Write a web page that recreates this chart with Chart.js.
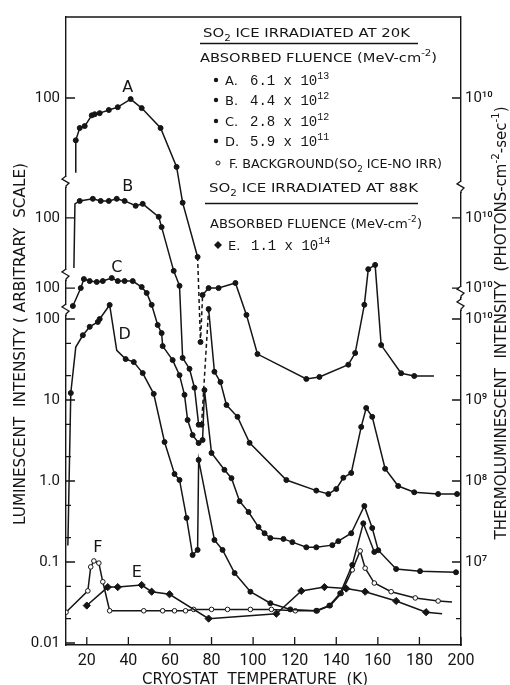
<!DOCTYPE html>
<html>
<head>
<meta charset="utf-8">
<script src="https://cdn.jsdelivr.net/npm/chart.js@4.4.0/dist/chart.umd.min.js"></script>
<style>
  html, body { margin: 0; padding: 0; background: #fff; }
  #wrap { width: 510px; height: 685px; }
</style>
</head>
<body>
<div id="wrap"><canvas id="tl" width="510" height="685"></canvas></div>
<script>
// values; A, B, C are in their own (shifted) scales
const aTemp = [14.7, 14.7, 16.6, 19.0, 22.4, 23.8, 26.2, 30.6, 34.9, 41.1, 46.4, 55.5, 63.2, 66.1, 73.3, 74.7, 75.7, 78.6, 83.4, 91.5, 96.8, 102.1, 125.6, 131.9, 145.8, 149.1, 153.5, 155.4, 158.7, 161.6, 171.2, 177.5, 187];
const aLum  = [11.9, 30, 42.6, 45, 61, 63, 65, 71, 77, 97, 75, 42.6, 14.1, 5.1, 1.09, 0.097, 0.37, 0.45, 0.45, 0.52, 0.21, 0.069, 0.034, 0.036, 0.051, 0.071, 0.28, 0.77, 0.87, 0.089, 0.040, 0.037, 0.037];

const bTemp = [13.8, 14.3, 16.6, 22.9, 26.7, 30.6, 34.4, 38.2, 43.5, 46.9, 54.6, 56.0, 61.8, 64.6, 66.1, 69.4, 71.8, 73.8, 75.2, 78.6, 81.4, 84.3, 87.2, 92.5, 98.3, 116.0, 130.4, 136.2, 140.0, 143.4, 147.2, 152.0, 154.4, 157.3, 163.5, 169.8, 177.5, 189.0, 198.1];
const bLum  = [24, 149, 162, 172, 162, 162, 172, 162, 141, 149, 103, 77, 22.2, 14.5, 1.87, 1.37, 0.80, 0.28, 0.28, 7.5, 1.26, 0.94, 0.49, 0.35, 0.167, 0.058, 0.043, 0.039, 0.045, 0.062, 0.071, 0.263, 0.45, 0.35, 0.080, 0.049, 0.041, 0.039, 0.039];

const cTemp = [13.3, 17.1, 18.6, 21.4, 24.8, 27.7, 32.0, 34.9, 38.2, 42.1, 46.4, 48.8, 51.2, 54.1, 56.0, 56.5, 61.3, 64.6, 67.0, 68.5, 70.9, 73.8, 75.7, 76.6, 80.0, 86.2, 89.6, 93.5, 97.8, 102.6, 105.5, 108.3, 114.6, 118.9, 125.6, 130.4, 138.1, 141.0, 147.2, 153.5, 157.3, 160.2, 168.8, 180.3, 197.6];
const cLum  = [60, 100, 129, 122, 119, 122, 133, 122, 122, 122, 103, 87, 62, 35, 27.8, 19.2, 12.9, 8.4, 4.8, 2.35, 1.53, 1.22, 1.33, 5.5, 0.92, 0.57, 0.45, 0.234, 0.172, 0.112, 0.094, 0.082, 0.080, 0.073, 0.063, 0.063, 0.067, 0.075, 0.094, 0.204, 0.109, 0.058, 0.034, 0.032, 0.031];

const dTemp = [10.9, 12.3, 14.7, 18.1, 21.4, 25.3, 26.2, 31.0, 34.4, 38.7, 42.6, 46.9, 52.2, 57.4, 62.2, 64.6, 68.0, 70.9, 73.3, 73.8, 81.4, 85.3, 91.1, 98.7, 108.3, 117.9, 130.4, 136.7, 141.9, 147.7, 153.0, 158.3];
const dLum  = [0.16, 12.2, 45, 63, 80, 92, 100, 149, 41, 32, 29.4, 21.5, 11.9, 3.03, 1.22, 1.03, 0.35, 0.122, 0.141, 1.82, 0.187, 0.141, 0.073, 0.043, 0.031, 0.026, 0.025, 0.029, 0.041, 0.092, 0.30, 0.133];

const eTemp = [20.0, 30.1, 34.9, 46.4, 51.2, 59.8, 78.6, 111.2, 123.2, 134.3, 144.8, 153.9, 168.8, 183.2, 190.9];
const eLum  = [0.029, 0.049, 0.049, 0.052, 0.043, 0.040, 0.020, 0.023, 0.044, 0.049, 0.047, 0.043, 0.033, 0.024, 0.023];

const fTemp = [10, 20.5, 21.9, 23.4, 25.8, 27.7, 31.0, 47.4, 56.5, 62.2, 67.5, 71.4, 80.0, 87.7, 98.7, 108.8, 120.3, 130.9, 137.1, 142.4, 147.7, 151.5, 153.9, 158.3, 166.4, 178.0, 189.0, 195.7];
const fLum  = [0.024, 0.044, 0.087, 0.103, 0.097, 0.057, 0.025, 0.025, 0.025, 0.025, 0.025, 0.026, 0.026, 0.026, 0.026, 0.026, 0.025, 0.025, 0.029, 0.041, 0.080, 0.137, 0.084, 0.055, 0.043, 0.036, 0.033, 0.032];

const tempTicks = [20, 40, 60, 80, 100, 120, 140, 160, 180, 200];
const leftTickLabels = ['0.01', '0.1', '1.0', '10', '100', '100', '100', '100'];
const rightTickLabels = ['10\u2077', '10\u2078', '10\u2079', '10\u00b9\u2070', '10\u00b9\u2070', '10\u00b9\u2070', '10\u00b9\u2070'];

// vertical shift of the stacked curves (decades shown on the axis)
const OFFSET_A = 535, OFFSET_B = 17.7, OFFSET_C = 2.41;
const Y_MIN = 0.00945, Y_MAX = 534600, RIGHT_FACTOR = 1e8;

const INK = '#151515';
const SANS = "'DejaVu Sans', sans-serif";
const MONO = "'Liberation Mono', 'DejaVu Sans Mono', monospace";
const TICK_FAMILY = "Roboto, 'DejaVu Sans', sans-serif";

const leftTicks = [0.01, 0.1, 1, 10, 100, 100 * OFFSET_C, 100 * OFFSET_B, 100 * OFFSET_A];
const rightTicks = [1e7, 1e8, 1e9, 1e10, 1e10 * OFFSET_C, 1e10 * OFFSET_B, 1e10 * OFFSET_A];
const minorTicks = [0.02, 0.05, 0.2, 0.5, 2, 5, 20, 50];

function pts(temp, lum, k) {
  return temp.map((t, i) => ({ x: t, y: lum[i] * k }));
}
function dashBetween(lo, hi) {
  return ctx => (ctx.p0.parsed.x >= lo && ctx.p1.parsed.x <= hi) ? [4, 3] : undefined;
}
function line(label, data, extra) {
  return Object.assign({
    label, data,
    borderColor: INK, backgroundColor: INK, borderWidth: 1.5,
    pointRadius: ctx => (ctx.dataset.bare || []).includes(ctx.dataIndex) ? 0 : 2.5,
    pointBorderColor: INK, pointBorderWidth: 1, pointHoverRadius: 0,
    tension: 0, fill: false, yAxisID: 'y'
  }, extra || {});
}

// text with sub/superscripts, optionally squeezed to a width
function rich(ctx, x, y, parts, o) {
  const size = o.size || 13, fam = o.family || SANS;
  const list = parts.map(p => typeof p === 'string' ? [p, ''] : p);
  const fontFor = m => (m ? Math.round(size * 0.7) : size) + 'px ' + fam;
  let w = 0;
  list.forEach(([t, m]) => { ctx.font = fontFor(m); w += ctx.measureText(t).width; });
  ctx.save();
  ctx.translate(x, y);
  if (o.width) ctx.scale(o.width / w, 1);
  let cx = o.align === 'center' ? -w / 2 : 0;
  ctx.fillStyle = INK; ctx.textAlign = 'left'; ctx.textBaseline = 'alphabetic';
  list.forEach(([t, m]) => {
    ctx.font = fontFor(m);
    const dy = m === 'sup' ? -size * 0.45 : (m === 'sub' ? size * 0.3 : 0);
    ctx.fillText(t, cx, dy);
    cx += ctx.measureText(t).width;
  });
  ctx.restore();
}

function dot(ctx, x, y, kind) {
  ctx.save();
  ctx.strokeStyle = INK; ctx.fillStyle = INK; ctx.lineWidth = 1;
  ctx.beginPath();
  if (kind === 'diamond') {
    ctx.moveTo(x, y - 4); ctx.lineTo(x + 4, y); ctx.lineTo(x, y + 4); ctx.lineTo(x - 4, y); ctx.closePath();
    ctx.fill();
  } else if (kind === 'open') {
    ctx.arc(x, y, 2, 0, Math.PI * 2); ctx.fillStyle = '#fff'; ctx.fill(); ctx.stroke();
  } else {
    ctx.arc(x, y, 2.2, 0, Math.PI * 2); ctx.fill();
  }
  ctx.restore();
}

const decor = {
  id: 'decor',
  afterDraw(chart) {
    const { ctx, chartArea: a, scales } = chart;
    const x = scales.x, y = scales.y, y2 = scales.y2;
    ctx.save();
    ctx.strokeStyle = INK; ctx.lineWidth = 1.3;

    // top frame line
    ctx.beginPath(); ctx.moveTo(a.left, a.top); ctx.lineTo(a.right, a.top); ctx.stroke();

    // inward tick marks
    ctx.beginPath();
    y.ticks.forEach(t => { const p = y.getPixelForValue(t.value); ctx.moveTo(a.left, p); ctx.lineTo(a.left + 9, p); });
    minorTicks.forEach(v => { const p = y.getPixelForValue(v); ctx.moveTo(a.left, p); ctx.lineTo(a.left + 5, p); });
    y2.ticks.forEach(t => { const p = y2.getPixelForValue(t.value); ctx.moveTo(a.right, p); ctx.lineTo(a.right - 9, p); });
    minorTicks.forEach(v => { const p = y2.getPixelForValue(v * RIGHT_FACTOR); ctx.moveTo(a.right, p); ctx.lineTo(a.right - 5, p); });
    x.ticks.forEach(t => { const p = x.getPixelForValue(t.value); ctx.moveTo(p, a.bottom); ctx.lineTo(p, a.bottom - 8); });
    ctx.stroke();

    // axis breaks
    const zig = (px, py) => {
      ctx.fillStyle = '#fff'; ctx.fillRect(px - 2, py - 5, 4, 10);
      ctx.beginPath();
      ctx.moveTo(px, py - 6); ctx.lineTo(px - 4, py - 3); ctx.lineTo(px + 3, py + 1); ctx.lineTo(px, py + 4); ctx.lineTo(px, py + 6);
      ctx.stroke();
    };
    [4900, 349, 129].forEach(v => zig(a.left, y.getPixelForValue(v)));
    [4270, 215, 149].forEach(v => zig(a.right, y.getPixelForValue(v)));

    // curve letters
    const tags = [['A', 39.7, 133, OFFSET_A], ['B', 39.7, 242, OFFSET_B], ['C', 34.4, 177, OFFSET_C],
                  ['D', 38.2, 63, 1], ['E', 44, 0.073, 1], ['F', 25.3, 0.149, 1]];
    ctx.fillStyle = INK; ctx.font = '16px ' + SANS; ctx.textAlign = 'center'; ctx.textBaseline = 'middle';
    tags.forEach(([s, t, v, k]) => ctx.fillText(s, x.getPixelForValue(t), y.getPixelForValue(v * k)));

    // key
    rich(ctx, 203, 37, ['SO', ['2', 'sub'], ' ICE IRRADIATED AT 20K'], { size: 13, width: 207 });
    ctx.beginPath(); ctx.moveTo(200, 43.5); ctx.lineTo(418, 43.5); ctx.stroke();
    rich(ctx, 200, 62, ['ABSORBED FLUENCE (MeV-cm', ['-2', 'sup'], ')'], { size: 13, width: 237 });
    const rows = [['A.', '6.1 x 10', '13', 80], ['B.', '4.4 x 10', '12', 100], ['C.', '2.8 x 10', '12', 121], ['D.', '5.9 x 10', '11', 141]];
    rows.forEach(([l, n, e, cy]) => {
      dot(ctx, 216, cy, 'fill');
      rich(ctx, 225, cy + 5, [l], { size: 13 });
      rich(ctx, 250, cy + 5, [n, [e, 'sup']], { size: 14, family: MONO });
    });
    dot(ctx, 218, 163, 'open');
    rich(ctx, 229, 168, ['F. BACKGROUND(SO', ['2', 'sub'], ' ICE-NO IRR)'], { size: 13, width: 213 });
    rich(ctx, 209, 192, ['SO', ['2', 'sub'], ' ICE IRRADIATED AT 88K'], { size: 13, width: 209 });
    ctx.beginPath(); ctx.moveTo(205, 203.5); ctx.lineTo(418, 203.5); ctx.stroke();
    rich(ctx, 210, 228, ['ABSORBED FLUENCE (MeV-cm', ['-2', 'sup'], ')'], { size: 13, width: 212 });
    dot(ctx, 218, 245, 'diamond');
    rich(ctx, 228, 250, ['E.'], { size: 13 });
    rich(ctx, 251, 250, ['1.1 x 10', ['14', 'sup']], { size: 14, family: MONO });

    // axis titles
    ctx.save(); ctx.translate(19, 344); ctx.rotate(-Math.PI / 2);
    rich(ctx, 0, 6, ['LUMINESCENT  INTENSITY ( ARBITRARY  SCALE)'], { size: 16, align: 'center', width: 362 });
    ctx.restore();
    ctx.save(); ctx.translate(500, 323); ctx.rotate(-Math.PI / 2);
    rich(ctx, 0, 6, ['THERMOLUMINESCENT  INTENSITY  (PHOTONS-cm', ['-2', 'sup'], '-sec', ['-1', 'sup'], ')'], { size: 16, align: 'center', width: 433 });
    ctx.restore();
    rich(ctx, 255, 684, ['CRYOSTAT  TEMPERATURE  (K)'], { size: 15, align: 'center', width: 226 });

    ctx.restore();
  }
};

const axisBorder = { display: true, color: INK, width: 1.4 };

new Chart(document.getElementById('tl'), {
  type: 'line',
  data: {
    datasets: [
      line('A', pts(aTemp, aLum, OFFSET_A), { bare: [0, aTemp.length - 1], segment: { borderDash: dashBetween(73, 76) } }),
      line('B', pts(bTemp, bLum, OFFSET_B), { bare: [0, 1], segment: { borderDash: dashBetween(75, 79) } }),
      line('C', pts(cTemp, cLum, OFFSET_C)),
      line('D', pts(dTemp, dLum, 1), { bare: [0, 2, 8] }),
      line('E', pts(eTemp, eLum, 1), { bare: [eTemp.length - 1], pointStyle: 'rectRot',
        pointRadius: ctx => ctx.dataIndex === eTemp.length - 1 ? 0 : 3.6 }),
      line('F', pts(fTemp, fLum, 1), { bare: [fTemp.length - 1], pointBackgroundColor: '#fff',
        pointRadius: ctx => ctx.dataIndex === fTemp.length - 1 ? 0 : 2.3 })
    ]
  },
  options: {
    responsive: false,
    animation: false,
    events: [],
    layout: { padding: { top: 17, left: 0, right: 0, bottom: 0 } },
    plugins: { legend: { display: false }, tooltip: { enabled: false } },
    scales: {
      x: {
        type: 'linear', position: 'bottom', min: 10, max: 200,
        afterBuildTicks: s => { s.ticks = tempTicks.map(v => ({ value: v })); },
        afterFit: s => { s.height = 40; },
        grid: { display: false, drawTicks: false },
        border: axisBorder,
        ticks: { color: INK, font: { family: TICK_FAMILY, size: 16 }, padding: 6, maxRotation: 0, autoSkip: false, callback: v => String(v) }
      },
      y: {
        type: 'logarithmic', position: 'left', min: Y_MIN, max: Y_MAX,
        afterBuildTicks: s => { s.ticks = leftTicks.map(v => ({ value: v })); },
        afterFit: s => { s.width = 66; },
        grid: { display: false, drawTicks: false },
        border: axisBorder,
        ticks: { color: INK, font: { family: TICK_FAMILY, size: 15 }, padding: 6, autoSkip: false, callback: (v, i) => leftTickLabels[i] }
      },
      y2: {
        type: 'logarithmic', position: 'right', min: Y_MIN * RIGHT_FACTOR, max: Y_MAX * RIGHT_FACTOR,
        afterBuildTicks: s => { s.ticks = rightTicks.map(v => ({ value: v })); },
        afterFit: s => { s.width = 49; },
        grid: { display: false, drawTicks: false },
        border: axisBorder,
        ticks: { color: INK, font: { family: TICK_FAMILY, size: 15 }, padding: 4, autoSkip: false, callback: (v, i) => rightTickLabels[i] }
      }
    }
  },
  plugins: [decor]
});
</script>
</body>
</html>
